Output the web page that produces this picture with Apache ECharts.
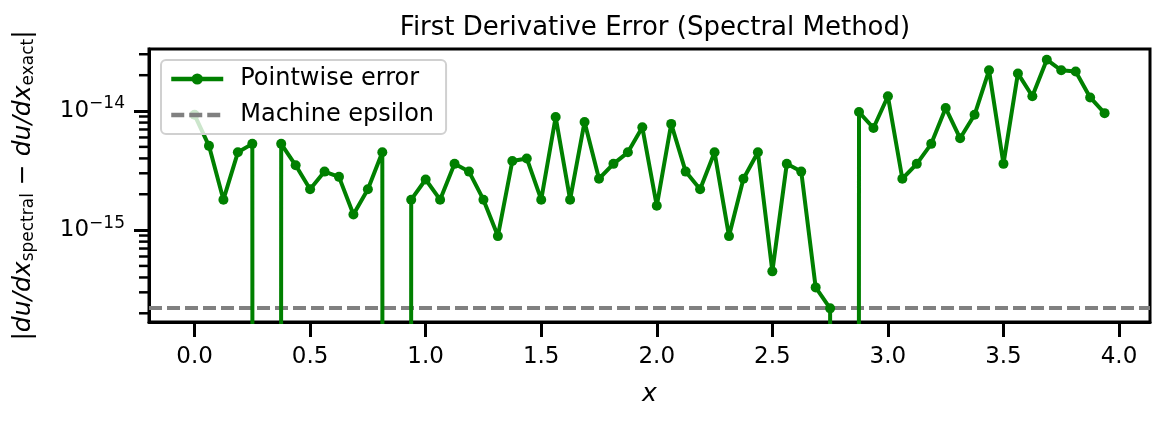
<!DOCTYPE html>
<html><head><meta charset="utf-8">
<script src="https://cdn.jsdelivr.net/npm/echarts@6/dist/echarts.min.js"></script>
<style>html,body{margin:0;background:#fff}#c{width:1168px;height:422px}</style>
</head><body><div id="c"></div>
<script>
// x = k/16, k = 0..63 ; zero errors stored as 0
const errors = [9.3e-15,5.1e-15,1.8e-15,4.5e-15,5.3e-15,0,5.3e-15,3.5e-15,2.2e-15,3.1e-15,
 2.8e-15,1.35e-15,2.2e-15,4.5e-15,0,1.8e-15,2.66e-15,1.8e-15,3.6e-15,3.1e-15,
 1.8e-15,8.9e-16,3.8e-15,4.0e-15,1.8e-15,8.9e-15,1.8e-15,8.1e-15,2.7e-15,3.6e-15,
 4.5e-15,7.3e-15,1.6e-15,7.8e-15,3.1e-15,2.2e-15,4.5e-15,8.9e-16,2.7e-15,4.5e-15,
 4.5e-16,3.6e-15,3.1e-15,3.3e-16,2.2e-16,0,9.8e-15,7.2e-15,1.33e-14,2.7e-15,
 3.6e-15,5.3e-15,1.06e-14,5.9e-15,9.3e-15,2.2e-14,3.6e-15,2.07e-14,1.33e-14,2.7e-14,
 2.2e-14,2.15e-14,1.3e-14,9.6e-15];
const xs = errors.map((_, k) => k / 16);
const machineEps = 2.22e-16;
const minorTickValues = [2e-16,3e-16,4e-16,5e-16,6e-16,7e-16,8e-16,9e-16,
  2e-15,3e-15,4e-15,5e-15,6e-15,7e-15,8e-15,9e-15,2e-14,3e-14];
const xMin = -0.197, xMax = 4.134, yMin = 1.69e-16, yMax = 3.32e-14;
const FLOOR = 1e-250; // stand-in for exact zero on the log axis (clipped)
const sup = {sup:{fontSize:17,verticalAlign:'top',padding:[0,0,14,0],color:'#000',fontFamily:'DejaVu Sans'}};
const chart = echarts.init(document.getElementById('c'));
chart.setOption({
  animation:false,
  textStyle:{fontFamily:'DejaVu Sans'},
  title:{text:'First Derivative Error (Spectral Method)',left:650,textAlign:'center',top:10,
    textStyle:{fontSize:26,fontWeight:'normal',color:'#000',fontFamily:'DejaVu Sans'}},
  grid:{left:149,right:18,top:49,bottom:100,show:true,borderColor:'#000',borderWidth:3},
  legend:{orient:'vertical',left:161,top:60,itemGap:8,itemWidth:52,itemHeight:14,
    backgroundColor:'rgba(255,255,255,0.8)',borderColor:'#d0d0d0',borderWidth:2,borderRadius:5,padding:[5,12,5,8],
    textStyle:{fontSize:24,lineHeight:28,color:'#000',fontFamily:'DejaVu Sans',padding:[0,0,0,12]},
    data:[{name:'Pointwise error',lineStyle:{width:4.5}},
          {name:'Machine epsilon',itemStyle:{opacity:0},lineStyle:{width:4.5}}]},
  xAxis:{type:'value',min:xMin,max:xMax,splitNumber:8,
    name:'x',nameLocation:'middle',nameGap:60,nameTextStyle:{fontSize:25,fontStyle:'italic',color:'#000'},
    axisLine:{onZero:false,lineStyle:{color:'#000',width:3}},
    axisTick:{inside:false,length:15,lineStyle:{color:'#000',width:3}},
    splitLine:{show:false},
    axisLabel:{showMinLabel:false,showMaxLabel:false,fontSize:23,color:'#000',margin:24,formatter:v=>v.toFixed(1)}},
  yAxis:{type:'log',logBase:10,min:yMin,max:yMax,
    name:'{t||du/dx}{s|spectral}{t| − du/dx}{s|exact}{t||}',nameLocation:'middle',nameGap:112,nameRotate:90,
    nameTextStyle:{rich:{t:{fontSize:25,fontStyle:'italic',color:'#000'},s:{fontSize:17,color:'#000',verticalAlign:'bottom',padding:[10,0,0,0]}}},
    axisLine:{show:true,onZero:false,lineStyle:{color:'#000',width:3}},
    axisTick:{length:15,lineStyle:{color:'#000',width:3}},
    minorTick:{show:false},
    splitLine:{show:false},
    axisLabel:{showMinLabel:false,showMaxLabel:false,fontSize:23,color:'#000',margin:24,
      formatter:v=>{const e=Math.round(Math.log10(v));return '10{sup|−'+Math.abs(e)+'}';},rich:sup}},
  series:[
    {name:'Pointwise error',type:'line',clip:true,
      data:xs.map((x,i)=>[x,errors[i]>0?errors[i]:FLOOR]),
      symbol:'circle',symbolSize:10,itemStyle:{color:'#008000'},lineStyle:{color:'#008000',width:4},z:3},
    {name:'Machine epsilon',type:'line',data:[[xMin,machineEps],[xMax,machineEps]],symbol:'circle',showSymbol:false,
      itemStyle:{color:'#808080'},lineStyle:{color:'#808080',width:4,type:[13,5]},z:2},
    {name:'minor',type:'custom',clip:false,silent:true,data:minorTickValues.map(v=>[xMin,v]),
      renderItem:(params,api)=>{const p=api.coord([api.value(0),api.value(1)]);
        return {type:'line',shape:{x1:p[0]-10,y1:p[1],x2:p[0],y2:p[1]},style:{stroke:'#000',lineWidth:2.5}};}}
  ]
});
</script></body></html>
